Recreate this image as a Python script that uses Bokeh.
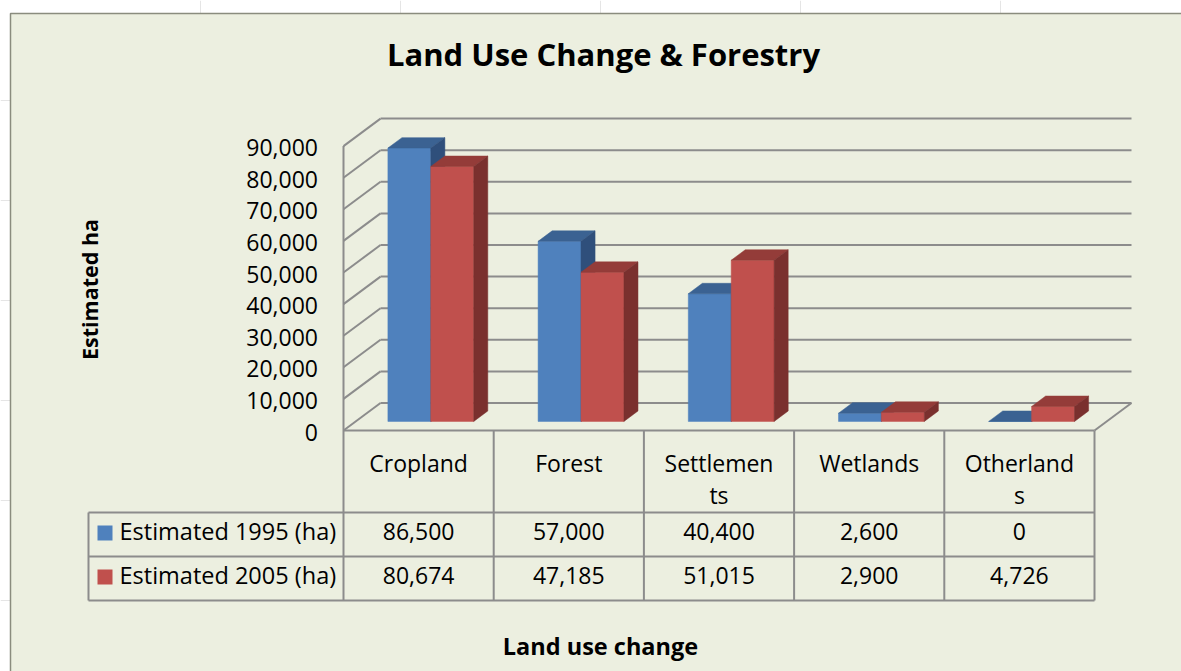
import math
from bokeh.plotting import figure
from bokeh.models import Range1d
from bokeh.core.properties import value
from bokeh.embed import file_html
from bokeh.resources import INLINE

# ---------------- data ----------------
categories = ["Cropland", "Forest", "Settlements", "Wetlands", "Otherlands"]
series_names = ["Estimated 1995 (ha)", "Estimated 2005 (ha)"]
est_1995 = [86500, 57000, 40400, 2600, 0]
est_2005 = [80674, 47185, 51015, 2900, 4726]
y_ticks = [0, 10000, 20000, 30000, 40000, 50000, 60000, 70000, 80000, 90000]
y_tick_labels = ["0", "10,000", "20,000", "30,000", "40,000", "50,000",
                 "60,000", "70,000", "80,000", "90,000"]
chart_title = "Land Use Change & Forestry"
y_title = "Estimated ha"
x_title = "Land use change"

# ---------------- styles / layout ----------------
FONT = "Open Sans"
BG = "#ECEFE0"
GRID = "#8C8C8C"
FRONT_COLORS = ["#4F81BD", "#C0504D"]
TOP_COLORS = ["#3B6292", "#943C39"]
SIDE_COLORS = ["#2F4F7B", "#7A302E"]

OX, OY = 0, 0
W, H = 1181, 671

FX0, FX1 = 343.0, 1094.0      # front edge of floor (screen px)
FY0 = 430.0                    # front zero line
DEPTH_X, DEPTH_Y = 37.0, -27.5 # full depth offset
PPV = 31.6 / 10000.0           # px per ha
F0, F1 = 0.33, 0.71            # bar depth fractions
SLOT = (FX1 - FX0) / len(categories)
BW = 1.0 / 3.5                 # bar width in slot units
BL = 0.4                       # baseline correction (em) for svg text


def bl(y, size):
    return y - BL * size


p = figure(width=W, height=H, output_backend="svg", toolbar_location=None,
           x_axis_location=None, y_axis_location=None, title=None,
           x_range=Range1d(OX, OX + W), y_range=Range1d(OY + H, OY),
           min_border=0, outline_line_color=None)
p.background_fill_color = "white"
p.border_fill_color = "white"

# extra ranges for the data marks (bar plane)
BX0 = FX0 + F0 * DEPTH_X
BY0 = FY0 + F0 * DEPTH_Y
p.extra_x_ranges = {"cat": Range1d((OX - BX0) / SLOT - 0.5, (OX + W - BX0) / SLOT - 0.5)}
p.extra_y_ranges = {"ha": Range1d((BY0 - (OY + H)) / PPV, (BY0 - OY) / PPV)}

# chart background
p.quad(left=10, right=OX + W + 10, top=13, bottom=OY + H + 10,
       fill_color=BG, line_color="#8A8C7E", line_width=1.5)

# walls / floor
def yf(v):
    return FY0 - v * PPV

def yb(v):
    return FY0 + DEPTH_Y - v * PPV

xs, ys = [], []
for t in y_ticks:
    xs.append([FX0 + DEPTH_X, FX1 + DEPTH_X]); ys.append([yb(t), yb(t)])
    xs.append([FX0, FX0 + DEPTH_X]); ys.append([yf(t), yb(t)])
xs.append([FX1, FX1 + DEPTH_X]); ys.append([FY0, FY0 + DEPTH_Y])

# table
ROW0, ROW1, ROW2, ROW3 = FY0, 512.0, 556.0, 600.0
TX0 = 88.0
xs.append([FX0, FX1]); ys.append([ROW0, ROW0])
for r in (ROW1, ROW2, ROW3):
    xs.append([TX0, FX1]); ys.append([r, r])
xs.append([TX0, TX0]); ys.append([ROW1, ROW3])
xs.append([FX0, FX0]); ys.append([yf(y_ticks[-1]), ROW3])
for k in range(1, len(categories) + 1):
    x = FX0 + k * SLOT
    xs.append([x, x]); ys.append([ROW0, ROW3])
p.multi_line(xs=xs, ys=ys, line_color=GRID, line_width=2)

# bars
DXC = (F1 - F0) * DEPTH_X / SLOT
DYV = -(F1 - F0) * DEPTH_Y / PPV
for s, vals in enumerate([est_1995, est_2005]):
    lefts = [i - BW + s * BW for i in range(len(vals))]
    rights = [l + BW for l in lefts]
    p.quad(left=lefts, right=rights, bottom=0, top=vals,
           fill_color=FRONT_COLORS[s], line_color=FRONT_COLORS[s], line_width=0.5,
           x_range_name="cat", y_range_name="ha")
    tx = [[l, r, r + DXC, l + DXC] for l, r in zip(lefts, rights)]
    ty = [[v, v, v + DYV, v + DYV] for v in vals]
    p.patches(xs=tx, ys=ty, fill_color=TOP_COLORS[s], line_color=TOP_COLORS[s],
              line_width=0.5, x_range_name="cat", y_range_name="ha")
    sx = [[r, r + DXC, r + DXC, r] for r in rights]
    sy = [[0, DYV, v + DYV, v] for v in vals]
    p.patches(xs=sx, ys=sy, fill_color=SIDE_COLORS[s], line_color=SIDE_COLORS[s],
              line_width=0.5, x_range_name="cat", y_range_name="ha")

# tick labels
p.text(x=[317.5] * len(y_ticks), y=[bl(yf(t) + 10.7, 23) for t in y_ticks], text=y_tick_labels,
       text_font=value(FONT), text_font_size="23px", text_color="black",
       text_align="right", text_baseline="alphabetic")

# category labels (wrapped like the original data-table cells, 9 chars per line)
WRAP = 9
cx = [FX0 + (i + 0.5) * SLOT for i in range(len(categories))]
line1 = [c[:WRAP] for c in categories]
line2 = [c[WRAP:] for c in categories]
p.text(x=cx, y=[bl(472, 23)] * len(categories), text=line1,
       text_font=value(FONT), text_font_size="23px", text_color="black",
       text_align="center", text_baseline="alphabetic")
p.text(x=cx, y=[bl(504, 23)] * len(categories), text=line2,
       text_font=value(FONT), text_font_size="23px", text_color="black",
       text_align="center", text_baseline="alphabetic")

# table rows
for s, vals in enumerate([est_1995, est_2005]):
    base = [540.0, 584.0][s]
    p.text(x=cx, y=[bl(base, 23)] * len(vals), text=[f"{v:,}" for v in vals],
           text_font=value(FONT), text_font_size="23px", text_color="black",
           text_align="center", text_baseline="alphabetic")
    p.text(x=[119], y=[bl(base - 0.5, 23.5)], text=[series_names[s]],
           text_font=value(FONT), text_font_size="23.5px", text_color="black",
           text_align="left", text_baseline="alphabetic")
    p.rect(x=[104.5], y=[base - 7.5], width=15, height=15,
           fill_color=FRONT_COLORS[s], line_color=None)

# titles
p.text(x=[603], y=[bl(66, 31)], text=[chart_title], text_font=value(FONT),
       text_font_size="31px", text_font_style="bold", text_color="black",
       text_align="center", text_baseline="alphabetic")
p.text(x=[98 - BL * 21.5], y=[289], text=[y_title], angle=math.pi / 2, text_font=value(FONT),
       text_font_size="21.5px", text_font_style="bold", text_color="black",
       text_align="center", text_baseline="alphabetic")
p.text(x=[600], y=[bl(655, 23.5)], text=[x_title], text_font=value(FONT),
       text_font_size="23.5px", text_font_style="bold", text_color="black",
       text_align="center", text_baseline="alphabetic")

open("out.html", "w").write(file_html(p, INLINE))
